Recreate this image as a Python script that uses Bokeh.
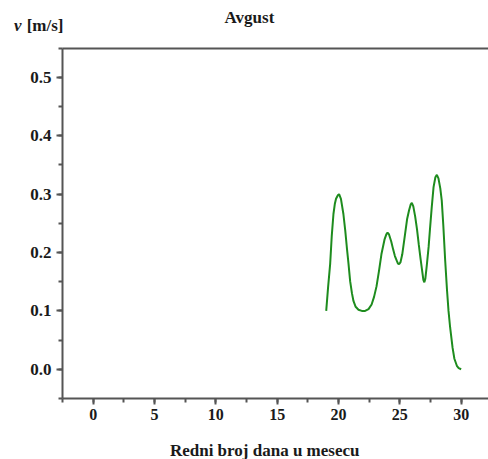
from bokeh.plotting import figure
from bokeh.models import Range1d, SingleIntervalTicker, PrintfTickFormatter, LinearAxis, Label
from bokeh.embed import file_html
from bokeh.resources import INLINE

# traced curve (day of month, speed m/s)
day = [19.00, 19.15, 19.32, 19.45, 19.59, 19.70, 19.80, 19.95, 20.05, 20.20,
       20.40, 20.55, 20.68, 20.82, 20.95, 21.10, 21.22, 21.40, 21.63, 21.90,
       22.17, 22.45, 22.70, 22.90, 23.10, 23.30, 23.50, 23.75, 23.90, 24.00,
       24.12, 24.30, 24.46, 24.60, 24.75, 24.85, 24.94, 25.05, 25.20, 25.43,
       25.60, 25.75, 25.88, 25.98, 26.10, 26.25, 26.40, 26.55, 26.70, 26.80,
       26.92, 27.00, 27.08, 27.20, 27.35, 27.47, 27.60, 27.75, 27.90, 28.02,
       28.15, 28.30, 28.42, 28.55, 28.70, 28.85, 28.97, 29.10, 29.30, 29.45,
       29.65, 29.80, 30.00]
speed = [0.100, 0.140, 0.180, 0.228, 0.266, 0.283, 0.292, 0.298, 0.300, 0.292,
         0.266, 0.238, 0.209, 0.180, 0.151, 0.130, 0.117, 0.107, 0.102, 0.100,
         0.100, 0.103, 0.111, 0.124, 0.142, 0.168, 0.197, 0.222, 0.231, 0.234,
         0.231, 0.219, 0.205, 0.194, 0.186, 0.181, 0.180, 0.183, 0.197, 0.232,
         0.258, 0.272, 0.282, 0.285, 0.279, 0.262, 0.240, 0.213, 0.188, 0.172,
         0.153, 0.149, 0.155, 0.178, 0.210, 0.243, 0.277, 0.312, 0.329, 0.333,
         0.327, 0.310, 0.289, 0.245, 0.186, 0.135, 0.100, 0.072, 0.037, 0.018,
         0.006, 0.002, 0.000]

title_text = "Avgust"
x_label = "Redni  broj  dana u mesecu"
y_label_var = "v"
y_label_unit = "[m/s]"

# axis box (data units) and the canvas extent around it
X0, X1 = -2.5, 32.23
Y0, Y1 = -0.05, 0.55
XC0, YC0, YC1 = -7.554, -0.1546, 0.6318

FONT = "Liberation Serif"
AX = "#555555"
TXT = "#1a1a1a"

p = figure(width=488, height=459, output_backend="svg", toolbar_location=None,
           x_range=Range1d(XC0, X1), y_range=Range1d(YC0, YC1),
           min_border=0, min_border_left=0, min_border_right=0,
           min_border_top=0, min_border_bottom=0)
p.background_fill_color = "white"
p.border_fill_color = "white"
p.outline_line_color = None
p.grid.visible = False

p.line(day, speed, line_color="#1e8c1e", line_width=2)

p.xaxis.ticker = SingleIntervalTicker(interval=5, num_minor_ticks=2)
p.yaxis.ticker = SingleIntervalTicker(interval=0.1, num_minor_ticks=2)
p.yaxis.formatter = PrintfTickFormatter(format="%.1f")
p.xaxis.fixed_location = Y0
p.yaxis.fixed_location = X0
p.xaxis.bounds = (X0, X1)
p.yaxis.bounds = (Y0, Y1)

for ax in (p.xaxis[0], p.yaxis[0]):
    ax.axis_line_color = AX
    ax.axis_line_width = 2
    ax.major_tick_line_color = AX
    ax.minor_tick_line_color = AX
    ax.major_tick_line_width = 2
    ax.minor_tick_line_width = 2
    ax.major_tick_in = 0
    ax.major_tick_out = 6
    ax.minor_tick_in = 0
    ax.minor_tick_out = 4
    ax.major_label_text_font = FONT
    ax.major_label_text_font_style = "bold"
    ax.major_label_text_font_size = "16px"
    ax.major_label_text_color = TXT
    ax.major_label_standoff = 5
p.yaxis.major_label_text_font_size = "17px"

top = LinearAxis(fixed_location=Y1, bounds=(X0, X1), axis_line_color=AX, axis_line_width=2,
                 major_tick_line_color=None, minor_tick_line_color=None,
                 major_label_text_color=None)
p.add_layout(top, "above")

p.add_layout(Label(x=12.74, y=Y1, y_offset=31, text=title_text, text_align="center",
                   text_baseline="middle", text_font=FONT, text_font_style="bold",
                   text_font_size="17px", text_color=TXT))
p.add_layout(Label(x=14.33, y=Y0, y_offset=-52, text=x_label, text_align="center",
                   text_baseline="middle", text_font=FONT, text_font_style="bold",
                   text_font_size="17px", text_color=TXT))
p.add_layout(Label(x=X0, y=Y1, x_offset=1, y_offset=23, text=y_label_unit, text_align="right",
                   text_baseline="middle", text_font=FONT, text_font_style="bold",
                   text_font_size="17px", text_color=TXT))
p.add_layout(Label(x=X0, y=Y1, x_offset=-41, y_offset=23, text=y_label_var, text_align="right",
                   text_baseline="middle", text_font=FONT, text_font_style="bold italic",
                   text_font_size="17px", text_color=TXT))

open("out.html", "w").write(file_html(p, INLINE))
